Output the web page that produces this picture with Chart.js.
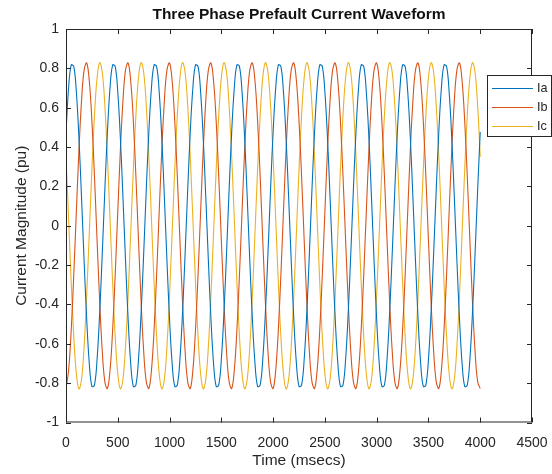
<!DOCTYPE html>
<html>
<head>
<meta charset="utf-8">
<script src="https://cdn.jsdelivr.net/npm/chart.js@4/dist/chart.umd.min.js"></script>
<style>
  body { margin: 0; background: #fff; }
  #wrap { width: 552px; height: 474px; }
</style>
</head>
<body>
<div id="wrap"><canvas id="wave-chart" width="552" height="474"></canvas></div>
<script>
// time samples (msecs), one row = one 400 ms cycle
const times = [
  0, 25, 50, 75, 100, 125, 150, 175, 200, 225, 250, 275, 300, 325, 350, 375,
  400, 425, 450, 475, 500, 525, 550, 575, 600, 625, 650, 675, 700, 725, 750, 775,
  800, 825, 850, 875, 900, 925, 950, 975, 1000, 1025, 1050, 1075, 1100, 1125, 1150, 1175,
  1200, 1225, 1250, 1275, 1300, 1325, 1350, 1375, 1400, 1425, 1450, 1475, 1500, 1525, 1550, 1575,
  1600, 1625, 1650, 1675, 1700, 1725, 1750, 1775, 1800, 1825, 1850, 1875, 1900, 1925, 1950, 1975,
  2000, 2025, 2050, 2075, 2100, 2125, 2150, 2175, 2200, 2225, 2250, 2275, 2300, 2325, 2350, 2375,
  2400, 2425, 2450, 2475, 2500, 2525, 2550, 2575, 2600, 2625, 2650, 2675, 2700, 2725, 2750, 2775,
  2800, 2825, 2850, 2875, 2900, 2925, 2950, 2975, 3000, 3025, 3050, 3075, 3100, 3125, 3150, 3175,
  3200, 3225, 3250, 3275, 3300, 3325, 3350, 3375, 3400, 3425, 3450, 3475, 3500, 3525, 3550, 3575,
  3600, 3625, 3650, 3675, 3700, 3725, 3750, 3775, 3800, 3825, 3850, 3875, 3900, 3925, 3950, 3975,
  4000
];

const ia = [
  0.476, 0.700, 0.817, 0.810, 0.680, 0.446, 0.144, -0.180, -0.476, -0.700, -0.817, -0.810, -0.680, -0.446, -0.144, 0.180,
  0.476, 0.700, 0.817, 0.810, 0.680, 0.446, 0.144, -0.180, -0.476, -0.700, -0.817, -0.810, -0.680, -0.446, -0.144, 0.180,
  0.476, 0.700, 0.817, 0.810, 0.680, 0.446, 0.144, -0.180, -0.476, -0.700, -0.817, -0.810, -0.680, -0.446, -0.144, 0.180,
  0.476, 0.700, 0.817, 0.810, 0.680, 0.446, 0.144, -0.180, -0.476, -0.700, -0.817, -0.810, -0.680, -0.446, -0.144, 0.180,
  0.476, 0.700, 0.817, 0.810, 0.680, 0.446, 0.144, -0.180, -0.476, -0.700, -0.817, -0.810, -0.680, -0.446, -0.144, 0.180,
  0.476, 0.700, 0.817, 0.810, 0.680, 0.446, 0.144, -0.180, -0.476, -0.700, -0.817, -0.810, -0.680, -0.446, -0.144, 0.180,
  0.476, 0.700, 0.817, 0.810, 0.680, 0.446, 0.144, -0.180, -0.476, -0.700, -0.817, -0.810, -0.680, -0.446, -0.144, 0.180,
  0.476, 0.700, 0.817, 0.810, 0.680, 0.446, 0.144, -0.180, -0.476, -0.700, -0.817, -0.810, -0.680, -0.446, -0.144, 0.180,
  0.476, 0.700, 0.817, 0.810, 0.680, 0.446, 0.144, -0.180, -0.476, -0.700, -0.817, -0.810, -0.680, -0.446, -0.144, 0.180,
  0.476, 0.700, 0.817, 0.810, 0.680, 0.446, 0.144, -0.180, -0.476, -0.700, -0.817, -0.810, -0.680, -0.446, -0.144, 0.180,
  0.476
];

const ib = [
  -0.827, -0.736, -0.534, -0.250, 0.072, 0.383, 0.636, 0.792, 0.827, 0.736, 0.534, 0.250, -0.072, -0.383, -0.636, -0.792,
  -0.827, -0.736, -0.534, -0.250, 0.072, 0.383, 0.636, 0.792, 0.827, 0.736, 0.534, 0.250, -0.072, -0.383, -0.636, -0.792,
  -0.827, -0.736, -0.534, -0.250, 0.072, 0.383, 0.636, 0.792, 0.827, 0.736, 0.534, 0.250, -0.072, -0.383, -0.636, -0.792,
  -0.827, -0.736, -0.534, -0.250, 0.072, 0.383, 0.636, 0.792, 0.827, 0.736, 0.534, 0.250, -0.072, -0.383, -0.636, -0.792,
  -0.827, -0.736, -0.534, -0.250, 0.072, 0.383, 0.636, 0.792, 0.827, 0.736, 0.534, 0.250, -0.072, -0.383, -0.636, -0.792,
  -0.827, -0.736, -0.534, -0.250, 0.072, 0.383, 0.636, 0.792, 0.827, 0.736, 0.534, 0.250, -0.072, -0.383, -0.636, -0.792,
  -0.827, -0.736, -0.534, -0.250, 0.072, 0.383, 0.636, 0.792, 0.827, 0.736, 0.534, 0.250, -0.072, -0.383, -0.636, -0.792,
  -0.827, -0.736, -0.534, -0.250, 0.072, 0.383, 0.636, 0.792, 0.827, 0.736, 0.534, 0.250, -0.072, -0.383, -0.636, -0.792,
  -0.827, -0.736, -0.534, -0.250, 0.072, 0.383, 0.636, 0.792, 0.827, 0.736, 0.534, 0.250, -0.072, -0.383, -0.636, -0.792,
  -0.827, -0.736, -0.534, -0.250, 0.072, 0.383, 0.636, 0.792, 0.827, 0.736, 0.534, 0.250, -0.072, -0.383, -0.636, -0.792,
  -0.827
];

const ic = [
  0.351, 0.036, -0.284, -0.561, -0.752, -0.829, -0.780, -0.612, -0.351, -0.036, 0.284, 0.561, 0.752, 0.829, 0.780, 0.612,
  0.351, 0.036, -0.284, -0.561, -0.752, -0.829, -0.780, -0.612, -0.351, -0.036, 0.284, 0.561, 0.752, 0.829, 0.780, 0.612,
  0.351, 0.036, -0.284, -0.561, -0.752, -0.829, -0.780, -0.612, -0.351, -0.036, 0.284, 0.561, 0.752, 0.829, 0.780, 0.612,
  0.351, 0.036, -0.284, -0.561, -0.752, -0.829, -0.780, -0.612, -0.351, -0.036, 0.284, 0.561, 0.752, 0.829, 0.780, 0.612,
  0.351, 0.036, -0.284, -0.561, -0.752, -0.829, -0.780, -0.612, -0.351, -0.036, 0.284, 0.561, 0.752, 0.829, 0.780, 0.612,
  0.351, 0.036, -0.284, -0.561, -0.752, -0.829, -0.780, -0.612, -0.351, -0.036, 0.284, 0.561, 0.752, 0.829, 0.780, 0.612,
  0.351, 0.036, -0.284, -0.561, -0.752, -0.829, -0.780, -0.612, -0.351, -0.036, 0.284, 0.561, 0.752, 0.829, 0.780, 0.612,
  0.351, 0.036, -0.284, -0.561, -0.752, -0.829, -0.780, -0.612, -0.351, -0.036, 0.284, 0.561, 0.752, 0.829, 0.780, 0.612,
  0.351, 0.036, -0.284, -0.561, -0.752, -0.829, -0.780, -0.612, -0.351, -0.036, 0.284, 0.561, 0.752, 0.829, 0.780, 0.612,
  0.351, 0.036, -0.284, -0.561, -0.752, -0.829, -0.780, -0.612, -0.351, -0.036, 0.284, 0.561, 0.752, 0.829, 0.780, 0.612,
  0.351
];

const seriesNames = ['Ia', 'Ib', 'Ic'];
const seriesColors = ['#0072BD', '#D95319', '#EDB120'];

const titleText = 'Three Phase Prefault Current Waveform';
const xTitle = 'Time (msecs)';
const yTitle = 'Current Magnitude (pu)';

const FONT = "'Liberation Sans', Arial, Helvetica, sans-serif";
const AXIS_COLOR = '#262626';

function toPoints(values) {
  return values.map((v, i) => ({ x: times[i], y: v }));
}

// matlab style box, inward ticks, title, labels and legend
const matlabPlugin = {
  id: 'matlabLook',
  afterDatasetsDraw(chart) {
    const ctx = chart.ctx;
    const area = chart.chartArea;
    const xs = chart.scales.x;
    const ys = chart.scales.y;
    const tl = 5;

    ctx.save();
    ctx.strokeStyle = AXIS_COLOR;
    ctx.lineWidth = 1;
    ctx.strokeRect(area.left + 0.5, area.top + 0.5, area.right - area.left - 1, area.bottom - area.top - 1);

    ctx.beginPath();
    xs.ticks.forEach(t => {
      const px = Math.round(xs.getPixelForValue(t.value)) + 0.5;
      ctx.moveTo(px, area.bottom);
      ctx.lineTo(px, area.bottom - tl);
      ctx.moveTo(px, area.top);
      ctx.lineTo(px, area.top + tl);
    });
    ys.ticks.forEach(t => {
      const py = Math.round(ys.getPixelForValue(t.value)) + 0.5;
      ctx.moveTo(area.left, py);
      ctx.lineTo(area.left + tl, py);
      ctx.moveTo(area.right, py);
      ctx.lineTo(area.right - tl, py);
    });
    ctx.stroke();

    // title
    const cx = (area.left + area.right) / 2;
    ctx.fillStyle = '#111';
    ctx.font = 'bold 15.5px ' + FONT;
    ctx.textAlign = 'center';
    ctx.textBaseline = 'alphabetic';
    ctx.fillText(titleText, cx, 18.5);

    // axis titles
    ctx.fillStyle = AXIS_COLOR;
    ctx.font = '15.5px ' + FONT;
    ctx.textBaseline = 'middle';
    ctx.fillText(xTitle, cx, 461);
    ctx.save();
    ctx.translate(21.5, (area.top + area.bottom) / 2);
    ctx.rotate(-Math.PI / 2);
    ctx.fillText(yTitle, 0, 0);
    ctx.restore();

    // legend
    const lx = 487.5, ly = 75.5, lw = 64, lh = 61;
    ctx.fillStyle = '#fff';
    ctx.fillRect(lx, ly, lw, lh);
    ctx.strokeStyle = AXIS_COLOR;
    ctx.strokeRect(lx, ly, lw, lh);
    const rows = [88.5, 107.5, 126.5];
    ctx.font = '12.6px ' + FONT;
    ctx.textAlign = 'left';
    seriesNames.forEach((name, i) => {
      ctx.strokeStyle = seriesColors[i];
      ctx.lineWidth = 1.2;
      ctx.beginPath();
      ctx.moveTo(492, rows[i]);
      ctx.lineTo(533, rows[i]);
      ctx.stroke();
      ctx.fillStyle = AXIS_COLOR;
      ctx.fillText(name, 537, rows[i] + 0.5);
    });
    ctx.restore();
  }
};

new Chart(document.querySelector('#wave-chart').getContext('2d'), {
  type: 'line',
  data: {
    datasets: [ia, ib, ic].map((vals, i) => ({
      label: seriesNames[i],
      data: toPoints(vals),
      borderColor: seriesColors[i],
      backgroundColor: seriesColors[i],
      borderWidth: 1.1,
      pointRadius: 0,
      tension: 0.4,
      fill: false
    }))
  },
  options: {
    responsive: false,
    animation: false,
    devicePixelRatio: 1,
    layout: { padding: { top: 29, right: 20, left: 0, bottom: 0 } },
    plugins: {
      legend: { display: false },
      title: { display: false },
      tooltip: { enabled: false }
    },
    scales: {
      x: {
        type: 'linear',
        min: 0,
        max: 4500,
        grid: { display: false, drawTicks: false },
        border: { display: false },
        ticks: {
          stepSize: 500,
          padding: 12,
          color: AXIS_COLOR,
          font: { family: FONT, size: 14 },
          maxRotation: 0,
          callback: v => String(v)
        },
        afterFit(scale) {
          scale.height = 51.5;
          scale.paddingLeft = 0;
          scale.paddingRight = 0;
        }
      },
      y: {
        min: -1,
        max: 1,
        grid: { display: false, drawTicks: false },
        border: { display: false },
        ticks: {
          stepSize: 0.2,
          padding: 7,
          color: AXIS_COLOR,
          font: { family: FONT, size: 14 },
          callback: v => String(Number(v.toFixed(1)))
        },
        afterFit(scale) {
          scale.width = 66;
          scale.paddingTop = 0;
          scale.paddingBottom = 0;
        }
      }
    }
  },
  plugins: [matlabPlugin]
});
</script>
</body>
</html>
